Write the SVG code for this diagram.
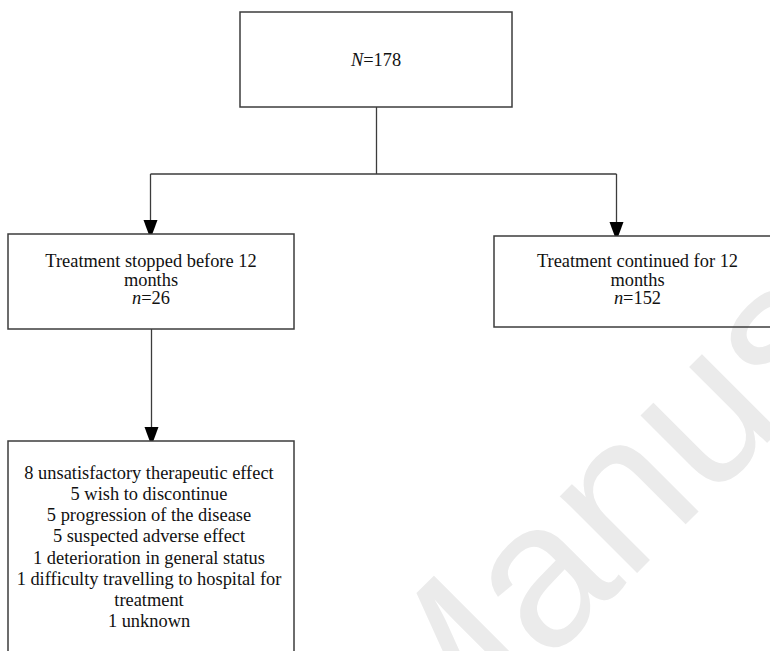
<svg xmlns="http://www.w3.org/2000/svg" width="770" height="651" viewBox="0 0 770 651">
  <style>
    .box { fill: none; stroke: #3c3c3c; stroke-width: 1.5; }
    .conn { fill: none; stroke: #3c3c3c; stroke-width: 1.3; }
    .lbl { font-family: "Liberation Serif", "Times New Roman", serif; font-size: 18.4px; fill: #111; text-anchor: middle; }
    .wm { font-family: "Liberation Sans", Arial, sans-serif; font-size: 206px; fill: #ebebeb; }
  </style>
  <defs>
    <marker id="arr" viewBox="0 0 14 19" refX="14" refY="7" markerWidth="14" markerHeight="19" markerUnits="userSpaceOnUse" orient="auto">
      <path d="M0,0 L19,7 L0,14 Z" fill="#000"/>
    </marker>
  </defs>
  <rect width="770" height="651" fill="#fff"/>
  <text class="wm" transform="translate(424.7,785.3) rotate(-45)">Manus</text>

  <g id="connectors">
    <path class="conn" d="M376.5,107 V174 M150.5,174 H616.5"/>
    <path class="conn" d="M150.5,174 V234" marker-end="url(#arr)"/>
    <path class="conn" d="M616.5,174 V236" marker-end="url(#arr)"/>
    <path class="conn" d="M151.5,329 V441" marker-end="url(#arr)"/>
  </g>

  <g id="total">
    <rect class="box" x="240" y="12" width="272" height="95"/>
    <text class="lbl" x="376" y="66"><tspan font-style="italic">N</tspan>=178</text>
  </g>

  <g id="stopped">
    <rect class="box" x="8" y="234" width="286" height="95"/>
    <text class="lbl" x="151" y="267">Treatment stopped before 12</text>
    <text class="lbl" x="151" y="285.5">months</text>
    <text class="lbl" x="151" y="304"><tspan font-style="italic">n</tspan>=26</text>
  </g>

  <g id="continued">
    <rect class="box" x="494" y="236" width="287" height="91"/>
    <text class="lbl" x="637.5" y="267">Treatment continued for 12</text>
    <text class="lbl" x="637.5" y="285.5">months</text>
    <text class="lbl" x="637.5" y="304"><tspan font-style="italic">n</tspan>=152</text>
  </g>

  <g id="reasons">
    <rect class="box" x="8" y="441" width="286" height="220"/>
    <text class="lbl" x="149" y="479">8 unsatisfactory therapeutic effect</text>
    <text class="lbl" x="149" y="500">5 wish to discontinue</text>
    <text class="lbl" x="149" y="521">5 progression of the disease</text>
    <text class="lbl" x="149" y="542">5 suspected adverse effect</text>
    <text class="lbl" x="149" y="563.5">1 deterioration in general status</text>
    <text class="lbl" x="149" y="584.5">1 difficulty travelling to hospital for</text>
    <text class="lbl" x="149" y="605.5">treatment</text>
    <text class="lbl" x="149" y="626.5">1 unknown</text>
  </g>
</svg>
